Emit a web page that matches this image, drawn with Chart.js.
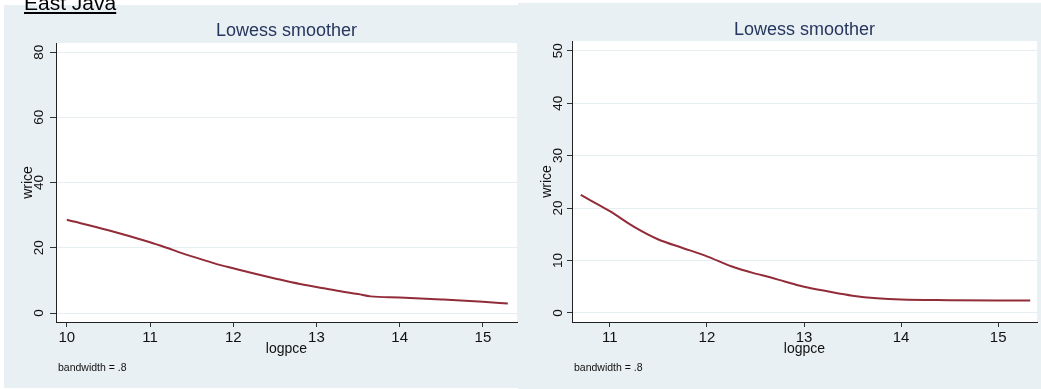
<!DOCTYPE html>
<html>
<head>
<meta charset="utf-8">
<script src="https://cdn.jsdelivr.net/npm/chart.js@4.4.1/dist/chart.umd.min.js"></script>
<style>
  body { margin: 0; width: 1041px; height: 389px; position: relative; overflow: hidden; background: #fff; font-family: "Liberation Sans", Arial, sans-serif; }
  .panel { position: absolute; background: #e8f0f3; }
  .panel canvas { display: block; }
  #hdr { position: absolute; left: 24px; top: -8px; font-size: 21px; line-height: 21px; text-decoration: underline; color: #000; z-index: 2; }
</style>
</head>
<body>
<div id="hdr">East Java</div>
<div class="panel" style="left:4px;top:5px;width:514px;height:383px"><canvas id="left-chart" width="514" height="383"></canvas></div>
<div class="panel" style="left:518px;top:3px;width:523px;height:386px"><canvas id="right-chart" width="523" height="386"></canvas></div>
<script>
// left panel: wrice against logpce
const leftX = [10.0, 10.5, 11.0, 11.2, 11.4, 11.6, 11.8, 12.0, 12.25, 12.5, 12.8, 13.0, 13.25, 13.5, 13.65, 14.0, 14.5, 15.0, 15.3];
const leftY = [28.6, 25.4, 21.7, 20.0, 18.2, 16.6, 15.0, 13.7, 12.1, 10.6, 8.9, 8.0, 6.8, 5.8, 5.1, 4.75, 4.15, 3.45, 2.9];
const leftXTicks = [10, 11, 12, 13, 14, 15];
const leftYTicks = [0, 20, 40, 60, 80];

// right panel
const rightX = [10.7, 11.0, 11.25, 11.5, 11.75, 12.0, 12.25, 12.5, 12.65, 12.8, 13.0, 13.25, 13.5, 13.75, 14.0, 14.5, 15.0, 15.33];
const rightY = [22.5, 19.4, 16.4, 14.0, 12.4, 10.8, 8.9, 7.5, 6.8, 6.0, 5.0, 4.1, 3.3, 2.8, 2.55, 2.45, 2.4, 2.4];
const rightXTicks = [11, 12, 13, 14, 15];
const rightYTicks = [0, 10, 20, 30, 40, 50];

const FONT = '"Liberation Sans", Arial, sans-serif';

// white plot region, title and bandwidth note
const panelText = {
    id: 'panelText',
    beforeDraw(chart) {
        const { ctx, chartArea } = chart;
        ctx.save();
        ctx.fillStyle = '#fff';
        ctx.fillRect(chartArea.left, chartArea.top, chartArea.right - chartArea.left, chartArea.bottom - chartArea.top);
        ctx.restore();
    },
    afterDraw(chart, args, opts) {
        const { ctx, chartArea } = chart;
        ctx.save();
        ctx.font = '18px ' + FONT;
        ctx.fillStyle = '#26365e';
        ctx.textAlign = 'center';
        ctx.textBaseline = 'alphabetic';
        ctx.fillText(opts.title, (chartArea.left + chartArea.right) / 2, opts.titleY);
        ctx.font = '10.5px ' + FONT;
        ctx.fillStyle = '#111';
        ctx.textAlign = 'left';
        ctx.textBaseline = 'middle';
        ctx.fillText(opts.note, chartArea.left + 2, opts.noteY);
        ctx.restore();
    }
};

function makeChart(id, xs, ys, xTicks, yTicks, p) {
    const ctx = document.getElementById(id).getContext('2d');
    return new Chart(ctx, {
        type: 'scatter',
        data: {
            datasets: [{
                data: xs.map((x, i) => ({ x: x, y: ys[i] })),
                showLine: true,
                borderColor: '#922c38',
                borderWidth: 2,
                pointRadius: 0,
                cubicInterpolationMode: 'monotone'
            }]
        },
        options: {
            responsive: false,
            animation: false,
            devicePixelRatio: 1,
            layout: { padding: { top: 38, right: p.padRight, left: 0, bottom: 0 } },
            plugins: {
                legend: { display: false },
                tooltip: { enabled: false },
                panelText: { title: 'Lowess smoother', note: 'bandwidth = .8', titleY: p.titleY, noteY: p.noteY }
            },
            scales: {
                x: {
                    type: 'linear',
                    min: p.xMin,
                    max: p.xMax,
                    afterBuildTicks: s => { s.ticks = xTicks.map(v => ({ value: v })); },
                    afterFit: s => { s.height = p.xAxisH; },
                    grid: { drawOnChartArea: false, tickLength: 5, tickColor: '#333' },
                    border: { color: '#222', width: 1 },
                    ticks: { color: '#111', padding: 1.5, maxRotation: 0, font: { family: FONT, size: 15 } },
                    title: { display: true, text: 'logpce', color: '#111', font: { family: FONT, size: 14 }, padding: { bottom: p.xTitlePad } }
                },
                y: {
                    min: p.yMin,
                    max: p.yMax,
                    afterBuildTicks: s => { s.ticks = yTicks.map(v => ({ value: v })); },
                    afterFit: s => { s.width = p.yAxisW; },
                    grid: { color: '#e6eef1', lineWidth: 1, tickLength: p.yTickLen, tickColor: '#333' },
                    border: { color: '#222', width: 1 },
                    ticks: { color: '#111', minRotation: 90, maxRotation: 90, crossAlign: 'center', padding: p.yTickPad, font: { family: FONT, size: 13.5 } },
                    title: { display: true, text: 'wrice', color: '#111', font: { family: FONT, size: 14 }, padding: { top: p.yTitlePad } }
                }
            }
        },
        plugins: [panelText]
    });
}

document.addEventListener('DOMContentLoaded', function () {
    makeChart('left-chart', leftX, leftY, leftXTicks, leftYTicks, {
        xMin: 9.87, xMax: 15.41, yMin: -2.76, yMax: 82.8,
        padRight: 1, xAxisH: 66, yAxisW: 52, yTickLen: 6, yTickPad: 3,
        xTitlePad: 30.8, yTitlePad: 15.7, titleY: 31, noteY: 363
    });
    makeChart('right-chart', rightX, rightY, rightXTicks, rightYTicks, {
        xMin: 10.61, xMax: 15.4, yMin: -1.72, yMax: 51.85,
        padRight: 4, xAxisH: 67, yAxisW: 54, yTickLen: 5, yTickPad: 1.5,
        xTitlePad: 31.8, yTitlePad: 20.7, titleY: 32, noteY: 365
    });
});
</script>
</body>
</html>
